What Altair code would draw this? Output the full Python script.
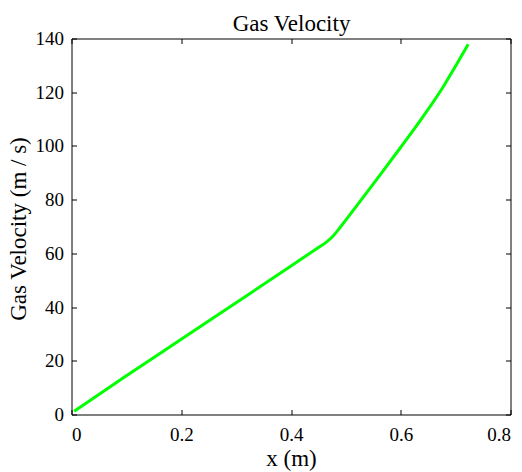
import altair as alt
import pandas as pd

# Values
x_m = [0.005, 0.1, 0.2, 0.3, 0.4, 0.45, 0.465, 0.475, 0.49, 0.52, 0.56, 0.60, 0.64, 0.68, 0.70, 0.723]
gas_velocity = [1.2, 14.4, 28.0, 41.6, 55.3, 62.2, 64.3, 66.1, 69.8, 77.8, 88.6, 99.5, 110.7, 122.9, 129.8, 137.9]

x_ticks = [0, 0.2, 0.4, 0.6, 0.8]
y_ticks = [0, 20, 40, 60, 80, 100, 120, 140]

df = pd.DataFrame({"x": x_m, "v": gas_velocity})

FONT = "Liberation Serif"
LABEL_SIZE = 19
TITLE_SIZE = 23

x_scale = alt.Scale(domain=[0, 0.8], nice=False, zero=False)
y_scale = alt.Scale(domain=[0, 140], nice=False, zero=False)

common_axis = dict(
    grid=False, domain=False, tickSize=5, offset=-5, tickColor="black",
    tickWidth=1, labelFont=FONT, labelFontSize=LABEL_SIZE, labelColor="black",
    titleFont=FONT, titleFontSize=TITLE_SIZE, titleFontWeight="normal", titleColor="black",
)

line = alt.Chart(df).mark_line(color="#00ff00", strokeWidth=3, interpolate="monotone").encode(
    x=alt.X("x:Q", scale=x_scale,
            axis=alt.Axis(orient="bottom", values=x_ticks, format="~g",
                          labelPadding=11, titleBaseline="alphabetic", titleY=56,
                          title="x (m)", **common_axis)),
    y=alt.Y("v:Q", scale=y_scale,
            axis=alt.Axis(orient="left", values=y_ticks, format="d",
                          labelPadding=8, titleBaseline="alphabetic", titleX=-51, titleY=190,
                          title="Gas Velocity (m / s)", **common_axis)),
)

# Second layer only carries the top/right tick axes (MATLAB-style box); the
# top axis title doubles as the chart title.
ticks_only = alt.Chart(df).mark_line(opacity=0).encode(
    x=alt.X("x:Q", scale=x_scale,
            axis=alt.Axis(orient="top", values=x_ticks, labels=False,
                          title="Gas Velocity", titleBaseline="alphabetic", titleY=-13.5,
                          **common_axis)),
    y=alt.Y("v:Q", scale=y_scale,
            axis=alt.Axis(orient="right", values=y_ticks, labels=False, title=None, **common_axis)),
)

chart = (
    alt.layer(line, ticks_only)
    .resolve_axis(x="independent", y="independent")
    .properties(
        width=439,
        height=376,
        autosize=alt.AutoSizeParams(type="none"),
        padding={"left": 63.5, "top": 30.5, "right": 2, "bottom": 58},
        background="white",
    )
    .configure_view(stroke="black", strokeWidth=1)
)

chart.save("out.html", embed_options={"renderer": "svg", "actions": False})
